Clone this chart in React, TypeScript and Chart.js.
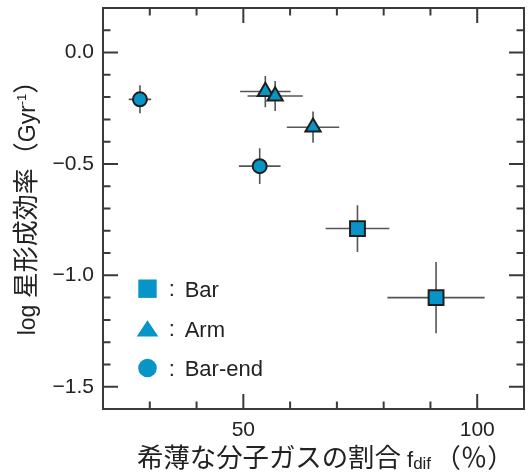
import React, { useEffect, useRef } from 'react';
import { Chart, registerables } from 'chart.js';

Chart.register(...registerables);

// ---- data ----
const seriesLabels = ['Bar', 'Arm', 'Bar-end'];

const barX = [74.4, 91.2];
const barY = [-0.79, -1.1];
const barXErr = [6.8, 10.4];
const barYErr = [0.105, 0.16];

const armX = [54.7, 56.8, 64.9];
const armY = [-0.175, -0.195, -0.335];
const armXErr = [5.4, 5.9, 5.6];
const armYErr = [0.07, 0.067, 0.07];

const endX = [27.9, 53.5];
const endY = [-0.21, -0.51];
const endXErr = [2.4, 4.45];
const endYErr = [0.063, 0.08];

const xMajorTicks = [50, 100];
const xMinorTicks = [30, 40, 60, 70, 80, 90];
const yMajorTicks = [0, -0.5, -1, -1.5];
const yMinorTicks = [0.1, -0.1, -0.2, -0.3, -0.4, -0.6, -0.7, -0.8, -0.9, -1.1, -1.2, -1.3, -1.4];

const xTitleParts = ['希薄な分子ガスの割合', ' f', 'dif', ' ', '（％）'];
const yTitleParts = ['log', ' ', '星形成効率', '（', 'Gyr', '-1', '）'];

// ---- styles ----
const FILL = '#0795c8';
const EDGE = '#1e1e1e';
const AXIS = '#3a3a3a';
const TEXT = '#222222';
const LAT = '"Liberation Sans", "Noto Sans CJK JP", sans-serif';
const CJK = '"Noto Sans CJK JP", sans-serif';

const pts = (xs: number[], ys: number[], xe: number[], ye: number[]) =>
  xs.map((x, i) => ({ x, y: ys[i], xErr: xe[i], yErr: ye[i] }));

type Part = { t: string; font: string; dy?: number };

function drawParts(ctx: CanvasRenderingContext2D, parts: Part[], start: number, baseline: number) {
  let x = start;
  parts.forEach((p) => {
    ctx.font = p.font;
    ctx.fillText(p.t, x, baseline + (p.dy || 0));
    x += ctx.measureText(p.t).width;
  });
}
function partsWidth(ctx: CanvasRenderingContext2D, parts: Part[]) {
  let w = 0;
  parts.forEach((p) => {
    ctx.font = p.font;
    w += ctx.measureText(p.t).width;
  });
  return w;
}

const errorBarPlugin = {
  id: 'errorBars',
  beforeDatasetsDraw(chart: any) {
    const { ctx, scales } = chart;
    const xs = scales.x;
    const ys = scales.y;
    ctx.save();
    ctx.strokeStyle = '#555555';
    ctx.lineWidth = 1.6;
    chart.data.datasets.forEach((ds: any) => {
      ds.data.forEach((p: any) => {
        const px = xs.getPixelForValue(p.x);
        const py = ys.getPixelForValue(p.y);
        ctx.beginPath();
        ctx.moveTo(xs.getPixelForValue(p.x - p.xErr), py);
        ctx.lineTo(xs.getPixelForValue(p.x + p.xErr), py);
        ctx.moveTo(px, ys.getPixelForValue(p.y - p.yErr));
        ctx.lineTo(px, ys.getPixelForValue(p.y + p.yErr));
        ctx.stroke();
      });
    });
    ctx.restore();
  },
};

const framePlugin = {
  id: 'frame',
  afterDraw(chart: any) {
    const { ctx, chartArea: ca, scales } = chart;
    const xs = scales.x;
    const ys = scales.y;
    ctx.save();
    ctx.strokeStyle = AXIS;
    ctx.lineWidth = 2;
    ctx.strokeRect(ca.left, ca.top, ca.right - ca.left, ca.bottom - ca.top);
    ctx.beginPath();
    const xt = (v: number, len: number) => {
      const px = xs.getPixelForValue(v);
      ctx.moveTo(px, ca.bottom);
      ctx.lineTo(px, ca.bottom - len);
      ctx.moveTo(px, ca.top);
      ctx.lineTo(px, ca.top + len);
    };
    const yt = (v: number, len: number) => {
      const py = ys.getPixelForValue(v);
      ctx.moveTo(ca.left, py);
      ctx.lineTo(ca.left + len, py);
      ctx.moveTo(ca.right, py);
      ctx.lineTo(ca.right - len, py);
    };
    xMajorTicks.forEach((v) => xt(v, 15));
    xMinorTicks.forEach((v) => xt(v, 7.5));
    yMajorTicks.forEach((v) => yt(v, 15));
    yMinorTicks.forEach((v) => yt(v, 7.5));
    ctx.stroke();
    ctx.restore();
  },
};

const titlePlugin = {
  id: 'titles',
  afterDraw(chart: any) {
    const { ctx, chartArea: ca } = chart;
    ctx.save();
    ctx.fillStyle = TEXT;
    ctx.textBaseline = 'alphabetic';
    ctx.textAlign = 'left';
    // x title
    const xp: Part[] = [
      { t: xTitleParts[0], font: `26.4px ${CJK}` },
      { t: xTitleParts[1], font: `22px ${LAT}` },
      { t: xTitleParts[2], font: `17px ${LAT}`, dy: 2 },
      { t: xTitleParts[3], font: `12px ${LAT}` },
      { t: xTitleParts[4], font: `26.4px ${CJK}` },
    ];
    drawParts(ctx, xp, ca.left + 34, ca.bottom + 57.5);
    // y title
    const yp: Part[] = [
      { t: yTitleParts[0], font: `23px ${LAT}` },
      { t: yTitleParts[1], font: `23px ${LAT}` },
      { t: yTitleParts[2], font: `26px ${CJK}` },
      { t: yTitleParts[3], font: `26px ${CJK}` },
      { t: yTitleParts[4], font: `23px ${LAT}` },
      { t: yTitleParts[5], font: `13px ${LAT}`, dy: -9 },
      { t: yTitleParts[6], font: `26px ${CJK}` },
    ];
    const yw = partsWidth(ctx, yp);
    ctx.translate(35, ca.top + 193.5);
    ctx.rotate(-Math.PI / 2);
    drawParts(ctx, yp, -yw / 2, 0);
    ctx.restore();
  },
};

const legendPlugin = {
  id: 'innerLegend',
  afterDraw(chart: any) {
    const { ctx, chartArea: ca } = chart;
    const cx = ca.left + 44.5;
    const rows = [ca.top + 280.7, ca.top + 320.7, ca.top + 360];
    ctx.save();
    ctx.fillStyle = FILL;
    // square
    ctx.fillRect(cx - 9.2, rows[0] - 9.2, 18.4, 18.4);
    // triangle
    ctx.beginPath();
    ctx.moveTo(cx, rows[1] - 8.5);
    ctx.lineTo(cx + 10.8, rows[1] + 7.8);
    ctx.lineTo(cx - 10.8, rows[1] + 7.8);
    ctx.closePath();
    ctx.fill();
    // circle
    ctx.beginPath();
    ctx.arc(cx, rows[2], 9.3, 0, Math.PI * 2);
    ctx.fill();
    ctx.fillStyle = TEXT;
    ctx.font = `22px ${LAT}`;
    ctx.textBaseline = 'alphabetic';
    seriesLabels.forEach((lab, i) => {
      ctx.textAlign = 'center';
      ctx.fillText(':', cx + 24.2, rows[i] + 7.5);
      ctx.textAlign = 'left';
      ctx.fillText(lab, cx + 37.2, rows[i] + 8);
    });
    ctx.restore();
  },
};

const fmtY = (v: number) => {
  const s = Math.abs(v) < 1e-9 ? '0.0' : v.toFixed(1);
  return s.replace('-', '\u2212');
};

export default function App() {
  const ref = useRef<HTMLCanvasElement | null>(null);
  useEffect(() => {
    document.body.style.margin = '0';
    if (!ref.current) return;
    const common = { backgroundColor: FILL, borderColor: EDGE, borderWidth: 2 };
    const chart = new Chart(ref.current, {
      type: 'scatter',
      data: {
        datasets: [
          { label: seriesLabels[0], data: pts(barX, barY, barXErr, barYErr), pointStyle: 'rect', pointRadius: 10.5, ...common },
          { label: seriesLabels[1], data: pts(armX, armY, armXErr, armYErr), pointStyle: 'triangle', pointRadius: 8.8, ...common },
          { label: seriesLabels[2], data: pts(endX, endY, endXErr, endYErr), pointStyle: 'circle', pointRadius: 7, ...common },
        ] as any,
      },
      options: {
        animation: false,
        responsive: false,
        devicePixelRatio: 1,
        events: [],
        layout: { autoPadding: false, padding: { top: 8, right: 4, left: 0, bottom: 0 } },
        plugins: { legend: { display: false }, tooltip: { enabled: false }, title: { display: false } },
        scales: {
          x: {
            type: 'linear',
            min: 20,
            max: 110,
            grid: { display: false, drawTicks: false },
            border: { display: false },
            afterBuildTicks: (s: any) => {
              s.ticks = xMajorTicks.map((v) => ({ value: v }));
            },
            afterFit: (s: any) => {
              s.height = 65;
              s.paddingLeft = 0;
              s.paddingRight = 0;
              s.paddingTop = 0;
              s.paddingBottom = 0;
            },
            ticks: {
              padding: 9,
              color: TEXT,
              font: { family: LAT, size: 21 },
              callback: (v: any) => String(v),
            },
          },
          y: {
            type: 'linear',
            min: -1.6,
            max: 0.2,
            grid: { display: false, drawTicks: false },
            border: { display: false },
            afterBuildTicks: (s: any) => {
              s.ticks = yMajorTicks.map((v) => ({ value: v }));
            },
            afterFit: (s: any) => {
              s.width = 103;
              s.paddingLeft = 0;
              s.paddingRight = 0;
              s.paddingTop = 0;
              s.paddingBottom = 0;
            },
            ticks: {
              padding: 9,
              color: TEXT,
              font: { family: LAT, size: 21 },
              callback: (v: any) => fmtY(Number(v)),
            },
          },
        },
      } as any,
      plugins: [errorBarPlugin, framePlugin, legendPlugin, titlePlugin],
    });
    return () => chart.destroy();
  }, []);
  return (
    <div style={{ position: 'absolute', left: 0, top: 0, width: 528, height: 474, background: '#fff' }}>
      <canvas ref={ref} width={528} height={474} style={{ width: 528, height: 474, display: 'block' }} />
    </div>
  );
}
